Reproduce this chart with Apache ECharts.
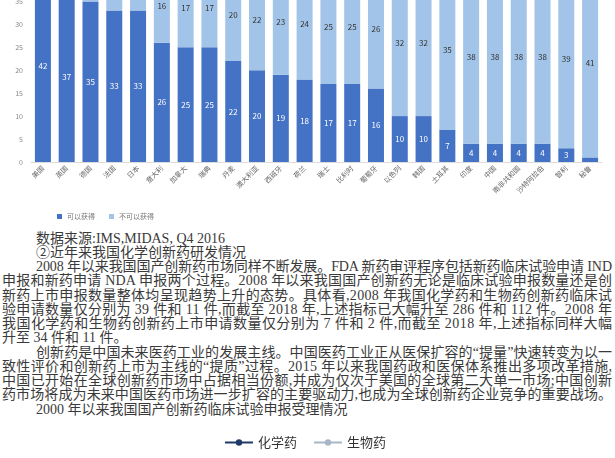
<!DOCTYPE html>
<html>
<head>
<meta charset="utf-8">
<script src="https://cdn.jsdelivr.net/npm/echarts@6.0.0/dist/echarts.min.js"></script>
<style>
  html, body { margin: 0; padding: 0; background: #fff; }
  body { width: 615px; height: 458px; position: relative; overflow: hidden; }
  #barChart { position: absolute; left: 0; top: -48px; width: 615px; height: 273px; }
  #legendChart { position: absolute; left: 0; top: 425px; width: 615px; height: 30px; }
  .txt {
    position: absolute; white-space: nowrap; height: 15px;
    font-family: 'Liberation Serif', 'Noto Sans CJK SC', serif;
    font-size: 14px; line-height: 15px; color: #3a3a3a;
  }
  .txt span { display: inline-block; }
</style>
</head>
<body>
<div id="barChart"></div>
<div id="text"></div>
<div id="legendChart"></div>
<script>
// bar chart data
const countries = ['美国', '英国', '德国', '法国', '日本', '意大利', '加拿大', '瑞典', '丹麦', '澳大利亚', '西班牙', '荷兰',
  '瑞士', '比利时', '葡萄牙', '以色列', '韩国', '土耳其', '印度', '中国', '南非共和国', '沙特阿拉伯', '智利', '秘鲁']
const availableCounts = [42, 37, 35, 33, 33, 26, 25, 25, 22, 20, 19, 18, 17, 17, 16, 10, 10, 7, 4, 4, 4, 4, 3, 1]
const unavailableCounts = [0, 5, 7, 9, 9, 16, 17, 17, 20, 22, 23, 24, 25, 25, 26, 32, 32, 35, 38, 38, 38, 38, 39, 41]
const barSeriesNames = ['可以获得', '不可以获得']

// line chart legend (the chart itself is below the page)
const drugTypes = ['化学药', '生物药']

// text lines of the page: [text, indent, justified]
const textLines = [
  ['数据来源:IMS,MIDAS, Q4 2016', true, false],
  ['②近年来我国化学创新药研发情况', true, false],
  ['2008 年以来我国国产创新药市场同样不断发展。FDA 新药审评程序包括新药临床试验申请 IND', true, true],
  ['申报和新药申请 NDA 申报两个过程。2008 年以来我国国产创新药无论是临床试验申报数量还是创', false, true],
  ['新药上市申报数量整体均呈现趋势上升的态势。具体看,2008 年我国化学药和生物药创新药临床试', false, true],
  ['验申请数量仅分别为 39 件和 11 件,而截至 2018 年,上述指标已大幅升至 286 件和 112 件。2008 年', false, true],
  ['我国化学药和生物药创新药上市申请数量仅分别为 7 件和 2 件,而截至 2018 年,上述指标同样大幅', false, true],
  ['升至 34 件和 11 件。', false, false],
  ['创新药是中国未来医药工业的发展主线。中国医药工业正从医保扩容的“提量”快速转变为以一', true, true],
  ['致性评价和创新药上市为主线的“提质”过程。2015 年以来我国药政和医保体系推出多项改革措施,', false, true],
  ['中国已开始在全球创新药市场中占据相当份额,并成为仅次于美国的全球第二大单一市场;中国创新', false, true],
  ['药市场将成为未来中国医药市场进一步扩容的主要驱动力,也成为全球创新药企业竞争的重要战场。', false, true],
  ['2000 年以来我国国产创新药临床试验申报受理情况', true, false],
]

const textBox = document.getElementById('text')
textLines.forEach(([line, indent, justify], i) => {
  const div = document.createElement('div')
  div.className = 'txt'
  div.style.left = (indent ? 36 : 2) + 'px'
  div.style.top = (230.5 + i * 14.25) + 'px'
  const span = document.createElement('span')
  span.textContent = line
  div.appendChild(span)
  if (justify) span.dataset.width = indent ? 576 : 610
  textBox.appendChild(div)
})

const fitLines = () => {
  document.querySelectorAll('.txt span[data-width]').forEach((span) => {
    span.style.letterSpacing = '0px'
    const w = span.getBoundingClientRect().width
    const n = span.textContent.length
    span.style.letterSpacing = ((Number(span.dataset.width) - w) / (n - 1)) + 'px'
  })
}
fitLines()
if (document.fonts) document.fonts.ready.then(fitLines)

const barChart = echarts.init(document.getElementById('barChart'))
const hideSmall = (p) => (p.value >= 2 ? p.value : '')

barChart.setOption({
  animation: false,
  textStyle: {
    fontFamily: 'Noto Sans CJK SC',
  },
  legend: {
    left: 52,
    top: 256,
    itemWidth: 5,
    itemHeight: 5,
    itemGap: 14,
    icon: 'rect',
    textStyle: {
      fontSize: 7,
      color: '#777',
    },
    data: barSeriesNames,
  },
  grid: {
    left: 31,
    right: 13,
    top: 0,
    bottom: 63,
  },
  xAxis: {
    type: 'category',
    data: countries,
    axisTick: { show: false },
    axisLine: {
      lineStyle: { color: '#dcdcdc' },
    },
    axisLabel: {
      rotate: 45,
      interval: 0,
      fontSize: 7,
      margin: 5,
      color: '#666',
    },
  },
  yAxis: {
    type: 'value',
    min: 0,
    max: 45,
    interval: 5,
    splitLine: { show: false },
    axisLine: { show: false },
    axisTick: { show: false },
    axisLabel: {
      fontSize: 7,
      margin: 8,
      color: '#888',
    },
  },
  series: [ {
    name: barSeriesNames[0],
    type: 'bar',
    stack: 'total',
    barWidth: 16,
    itemStyle: { color: '#4472C4' },
    label: {
      show: true,
      position: 'inside',
      fontSize: 8,
      color: '#fff',
      formatter: hideSmall,
    },
    data: availableCounts,
  }, {
    name: barSeriesNames[1],
    type: 'bar',
    stack: 'total',
    barWidth: 16,
    itemStyle: { color: '#A2C4E8' },
    label: {
      show: true,
      position: 'inside',
      fontSize: 8,
      color: '#333',
      formatter: hideSmall,
    },
    data: unavailableCounts,
  } ],
})

const legendChart = echarts.init(document.getElementById('legendChart'))
legendChart.setOption({
  animation: false,
  legend: {
    left: 219,
    top: 6,
    itemWidth: 28,
    itemHeight: 8,
    itemGap: 16,
    textStyle: {
      fontFamily: 'Noto Sans CJK SC',
      fontSize: 13,
      color: '#333',
    },
    data: drugTypes,
  },
  grid: { left: 0, right: 0, top: 0, bottom: 0 },
  xAxis: { type: 'category', show: false, data: [] },
  yAxis: { type: 'value', show: false },
  series: [ {
    name: drugTypes[0],
    type: 'line',
    symbol: 'circle',
    symbolSize: 5,
    itemStyle: { color: '#1F3A68' },
    lineStyle: { width: 2, color: '#1F3A68' },
    data: [],
  }, {
    name: drugTypes[1],
    type: 'line',
    symbol: 'circle',
    symbolSize: 4,
    itemStyle: { color: '#A9B6C8' },
    lineStyle: { width: 1.5, color: '#A9B6C8' },
    data: [],
  } ],
})
</script>
</body>
</html>
